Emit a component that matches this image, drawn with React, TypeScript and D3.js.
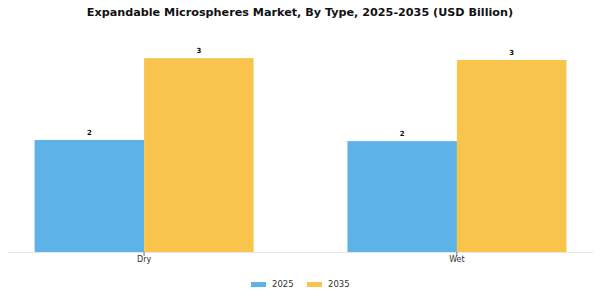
import React from "react";
import * as d3 from "d3";

const categories = ["Dry", "Wet"];
const seriesNames = ["2025", "2035"];
const values2025 = [1.85, 1.83];
const values2035 = [3.2, 3.17];
const colors = ["#5DB3E8", "#F8C44C"];
const title = "Expandable Microspheres Market, By Type, 2025-2035 (USD Billion)";

export default function App() {
  const W = 600, H = 300;
  const x0 = d3.scaleBand().domain(categories).range([8, 593]).paddingInner(0.3).paddingOuter(0.085);
  const x1 = d3.scaleBand().domain(seriesNames).range([0, x0.bandwidth()]);
  const y = d3.scaleLinear().domain([0, 3.5]).range([252, 40]);
  const series = [values2025, values2035];
  const font = "DejaVu Sans, sans-serif";
  return (
    <svg width={W} height={H} style={{ position: "absolute", left: 0, top: 0, background: "#fff" }}>
      <text x={300} y={16} textAnchor="middle" fontFamily={font} fontWeight="bold" fontSize={11.2} fill="#111">{title}</text>
      {categories.map((c, i) => (
        <g key={c}>
          {seriesNames.map((s, j) => {
            const v = series[j][i];
            const bx = (x0(c) as number) + (x1(s) as number);
            return (
              <g key={s}>
                <rect x={bx} y={y(v)} width={x1.bandwidth()} height={y(0) - y(v)} fill={colors[j]} />
                <text x={bx + x1.bandwidth() / 2} y={y(v) - 5} textAnchor="middle" fontFamily={font} fontWeight="bold" fontSize={7} fill="#111">{d3.format(".0f")(v)}</text>
              </g>
            );
          })}
        </g>
      ))}
      <line x1={8} x2={593} y1={252.5} y2={252.5} stroke="#e6e6e6" strokeWidth={1} />
      {categories.map((c) => {
        const cx = (x0(c) as number) + x0.bandwidth() / 2;
        return (
          <g key={c}>
            <line x1={cx} x2={cx} y1={252} y2={256} stroke="#555" strokeWidth={0.8} />
            <text x={cx} y={262} textAnchor="middle" fontFamily={font} fontSize={8} fill="#333">{c}</text>
          </g>
        );
      })}
      {seriesNames.map((s, j) => {
        const lx = 251 + j * 56;
        return (
          <g key={s}>
            <rect x={lx} y={282} width={15} height={5} fill={colors[j]} />
            <text x={lx + 21} y={287} fontFamily={font} fontSize={8.5} fill="#333">{s}</text>
          </g>
        );
      })}
    </svg>
  );
}
